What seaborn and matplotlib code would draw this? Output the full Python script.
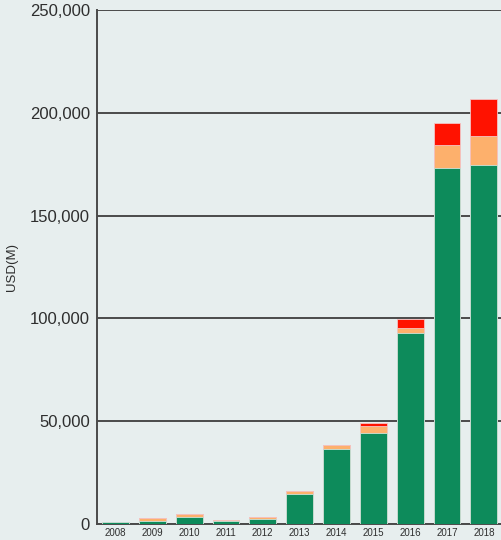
import pandas as pd
import matplotlib.pyplot as plt
import seaborn as sns

# Values (USD millions)
years = ["2008", "2009", "2010", "2011", "2012", "2013",
         "2014", "2015", "2016", "2017", "2018"]
green = [800, 1400, 3300, 1500, 2600, 14600, 36500, 44400, 92900, 173300, 174600]
orange = [0, 1400, 1400, 600, 800, 1450, 2100, 3300, 2600, 11200, 14000]
red = [0, 0, 0, 0, 0, 0, 0, 1300, 4200, 10700, 18000]

data = pd.DataFrame({"Year": years, "green": green, "orange": orange, "red": red})
data["go"] = data["green"] + data["orange"]
data["total"] = data["go"] + data["red"]

bg = "#e7eeee"
sns.set_theme(style="white")
plt.rcParams["font.family"] = ["Liberation Sans", "DejaVu Sans"]

fig = plt.figure(figsize=(5.01, 5.40), dpi=100, facecolor=bg)
ax = fig.add_axes([0.1936, 0.0296, 0.809, 0.952])
ax.set_facecolor(bg)

# stacked bars drawn as cumulative layers
sns.barplot(data=data, x="Year", y="total", color="#ff1200", width=0.73,
            edgecolor="#f4c4c4", linewidth=0.6, saturation=1, ax=ax, zorder=3)
sns.barplot(data=data, x="Year", y="go", color="#fdb06c", width=0.73,
            edgecolor="#f4c4c4", linewidth=0.6, saturation=1, ax=ax, zorder=4)
sns.barplot(data=data, x="Year", y="green", color="#0d8b5b", width=0.73,
            edgecolor="#cfe3da", linewidth=0.6, saturation=1, ax=ax, zorder=5)

ax.set_xlim(-0.5, 10.5)
ax.set_ylim(0, 250000)
ax.set_yticks(range(0, 250001, 50000))
ax.set_yticklabels([f"{v:,}" for v in range(0, 250001, 50000)])
ax.yaxis.grid(True, color="#4a4a4a", linewidth=1.4, zorder=1)
ax.set_axisbelow(True)

for side in ["top", "right"]:
    ax.spines[side].set_visible(False)
for side in ["left", "bottom"]:
    ax.spines[side].set_color("#4a4a4a")
    ax.spines[side].set_linewidth(1.4)

ax.tick_params(axis="y", length=0, pad=5, labelsize=12, labelcolor="#2e2e2e")
ax.tick_params(axis="x", length=0, pad=3, labelsize=7, labelcolor="#2e2e2e")
ax.set_xlabel("")
ax.set_ylabel("USD(M)", fontsize=9.5, color="#2e2e2e")
ax.yaxis.set_label_coords(-0.196, 0.5)

plt.savefig("out.png", dpi=100, facecolor=bg)
